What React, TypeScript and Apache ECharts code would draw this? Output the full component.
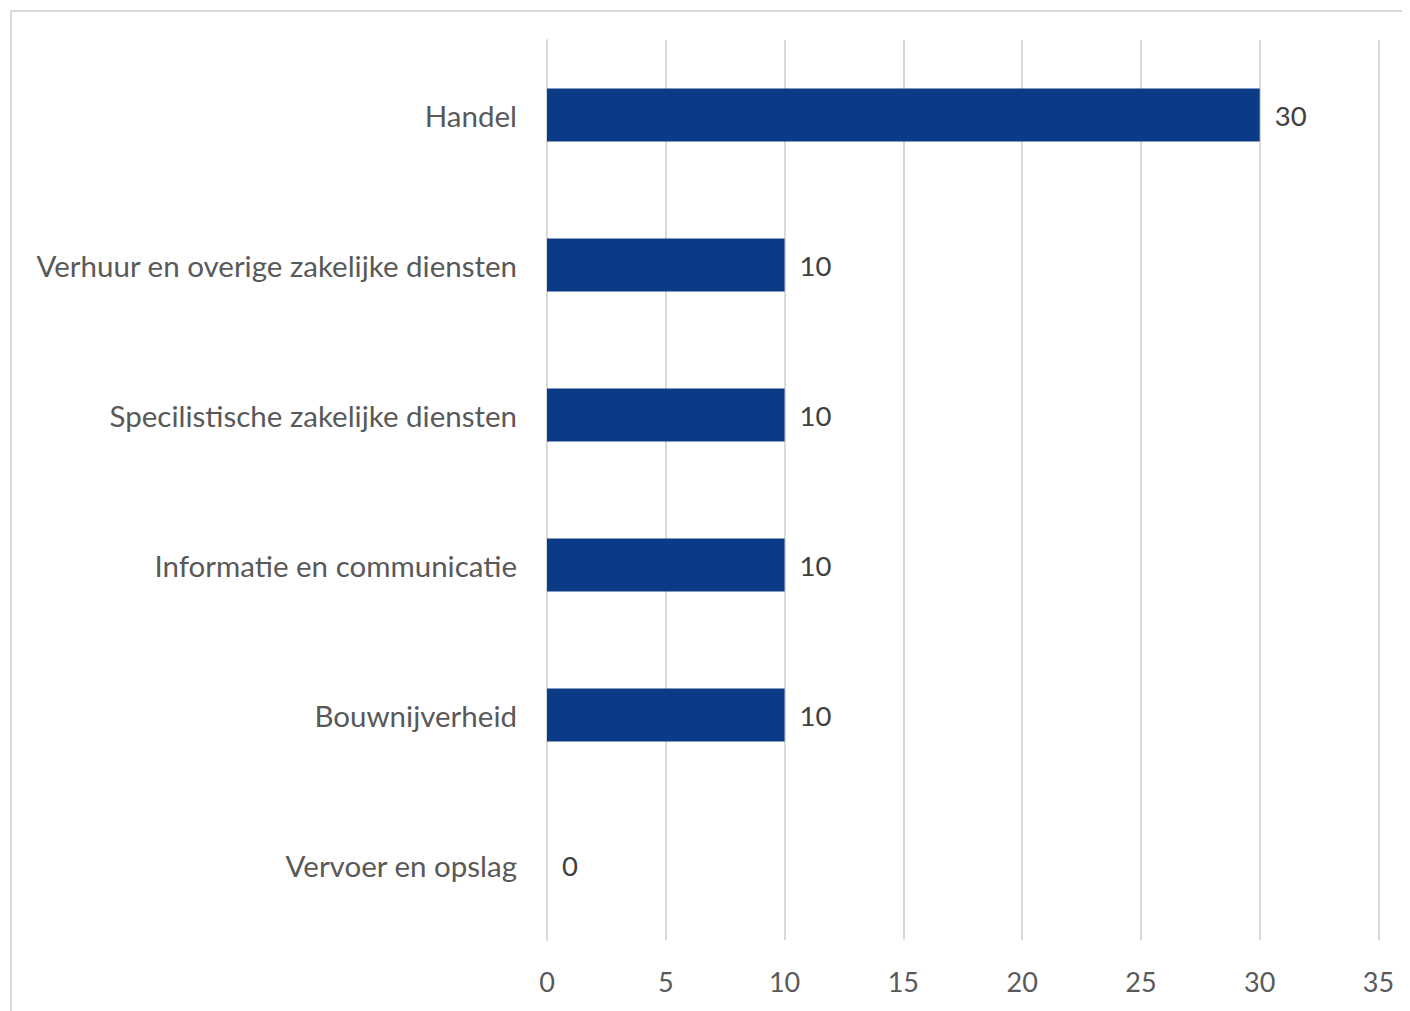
import React, { useEffect, useRef } from "react";
import * as echarts from "echarts";

const categories = [
  "Handel",
  "Verhuur en overige zakelijke diensten",
  "Specilistische zakelijke diensten",
  "Informatie en communicatie",
  "Bouwnijverheid",
  "Vervoer en opslag",
];
const values = [30, 10, 10, 10, 10, 0];
const xMin = 0;
const xMax = 35;
const xInterval = 5;

const FONT = "Lato, 'Open Sans', sans-serif";

export default function App() {
  const ref = useRef<HTMLDivElement>(null);
  useEffect(() => {
    if (!ref.current) return;
    const chart = echarts.init(ref.current, null, { renderer: "svg" });
    chart.setOption({
      animation: false,
      backgroundColor: "#ffffff",
      textStyle: { fontFamily: FONT },
      graphic: [
        {
          type: "rect",
          shape: { x: 3, y: 3, width: 1600, height: 1200 },
          style: { fill: "none", stroke: "#D9D9D9", lineWidth: 2 },
          silent: true,
        },
      ],
      grid: { left: 539, top: 32, width: 831.5, height: 900, containLabel: false },
      xAxis: {
        type: "value",
        min: xMin,
        max: xMax,
        interval: xInterval,
        axisLine: { show: false },
        axisTick: { show: false },
        splitLine: { show: true, lineStyle: { color: "#D9D9D9", width: 2 } },
        axisLabel: { color: "#595959", fontSize: 27, fontFamily: FONT, margin: 28 },
      },
      yAxis: {
        type: "category",
        data: categories,
        inverse: true,
        axisLine: { show: true, lineStyle: { color: "#D9D9D9", width: 2 } },
        axisTick: { show: false },
        axisLabel: { color: "#595959", fontSize: 29.5, fontFamily: FONT, margin: 30 },
      },
      series: [
        {
          type: "bar",
          data: values,
          barWidth: 53,
          itemStyle: { color: "#0B3A86" },
          label: {
            show: true,
            position: "right",
            distance: 15,
            color: "#404040",
            fontSize: 27.5,
            fontFamily: FONT,
          },
        },
      ],
    });
    return () => chart.dispose();
  }, []);
  return <div ref={ref} style={{ width: 1402, height: 1003 }} />;
}
